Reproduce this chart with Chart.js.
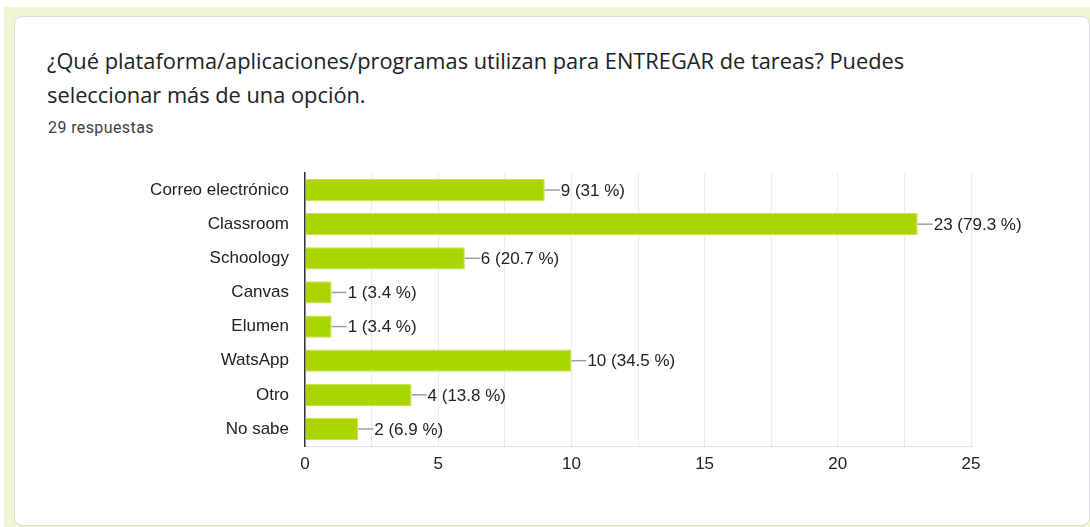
<!DOCTYPE html>
<html>
<head>
<meta charset="utf-8">
<script src="https://cdn.jsdelivr.net/npm/chart.js@4"></script>
<style>
  html, body { margin: 0; padding: 0; background: #fff; }
  #fondo {
    position: absolute; left: 4px; top: 7px; width: 1086px; height: 520px;
    background: #eef6d3;
  }
  #tarjeta {
    position: absolute; left: 14px; top: 16px; width: 1074px; height: 508px;
    background: #fff; border: 1px solid #dadce0; border-radius: 8px;
  }
  #titulo {
    position: absolute; left: 47px; top: 44px; width: 1000px;
    font-family: "Open Sans", sans-serif; font-size: 21.8px; line-height: 34px;
    color: #202124;
  }
  #respuestas {
    position: absolute; left: 48px; top: 118px;
    font-family: Roboto, sans-serif; font-size: 16px; color: #3c4043;
    letter-spacing: 0.4px;
  }
  #lienzo { position: absolute; left: 0; top: 0; }
</style>
</head>
<body>
<div id="fondo"></div>
<div id="tarjeta"></div>
<div id="titulo">¿Qué plataforma/aplicaciones/programas utilizan para ENTREGAR de tareas? Puedes<br>seleccionar más de una opción.</div>
<div id="respuestas">29 respuestas</div>
<canvas id="lienzo" width="1090" height="527"></canvas>
<script>
// Datos
const categorias = ['Correo electrónico', 'Classroom', 'Schoology', 'Canvas', 'Elumen', 'WatsApp', 'Otro', 'No sabe']
const respuestas = [9, 23, 6, 1, 1, 10, 4, 2]
const porcentajes = ['31', '79.3', '20.7', '3.4', '3.4', '34.5', '13.8', '6.9']
const marcas_x = [0, 5, 10, 15, 20, 25]

const fuente = { family: 'Liberation Sans, Arial, sans-serif', size: 17 }

// Etiqueta con la rayita gris al final de cada barra
const etiquetas = {
  id: 'etiquetas',
  afterDatasetsDraw(chart) {
    const ctx = chart.ctx
    const meta = chart.getDatasetMeta(0)
    ctx.save()
    ctx.font = `${fuente.size}px ${fuente.family}`
    ctx.textBaseline = 'middle'
    meta.data.forEach((bar, i) => {
      ctx.strokeStyle = '#9e9e9e'
      ctx.lineWidth = 1.5
      ctx.beginPath()
      ctx.moveTo(bar.x, bar.y)
      ctx.lineTo(bar.x + 15, bar.y)
      ctx.stroke()
      ctx.fillStyle = '#222'
      ctx.fillText(`${respuestas[i]} (${porcentajes[i]} %)`, bar.x + 16, bar.y + 1)
    })
    ctx.restore()
  }
}

new Chart(document.getElementById('lienzo'), {
  type: 'bar',
  data: {
    labels: categorias,
    datasets: [{
      data: respuestas,
      backgroundColor: '#abd500',
      borderColor: '#c4e34a',
      borderWidth: 1,
      barPercentage: 0.65,
      categoryPercentage: 1
    }]
  },
  options: {
    indexAxis: 'y',
    responsive: false,
    animation: false,
    layout: { padding: { top: 173, right: 119, left: 0, bottom: 0 } },
    plugins: { legend: { display: false }, tooltip: { enabled: false } },
    scales: {
      x: {
        min: 0,
        max: 25,
        afterFit: (s) => { s.height = 81 },
        afterBuildTicks: (s) => {
          const t = []
          for (let v = 0; v <= 25; v += 2.5) t.push({ value: v })
          s.ticks = t
        },
        ticks: {
          color: '#222',
          font: fuente,
          padding: 8,
          callback: (v) => marcas_x.includes(v) ? v : ''
        },
        grid: { color: '#ebebeb', drawTicks: false },
        border: { color: '#e6e6e6' }
      },
      y: {
        afterFit: (s) => { s.width = 305 },
        ticks: { color: '#222', font: fuente, padding: 16 },
        grid: { display: false, drawTicks: false },
        border: { color: '#333', width: 1.5 }
      }
    }
  },
  plugins: [etiquetas]
})
</script>
</body>
</html>
